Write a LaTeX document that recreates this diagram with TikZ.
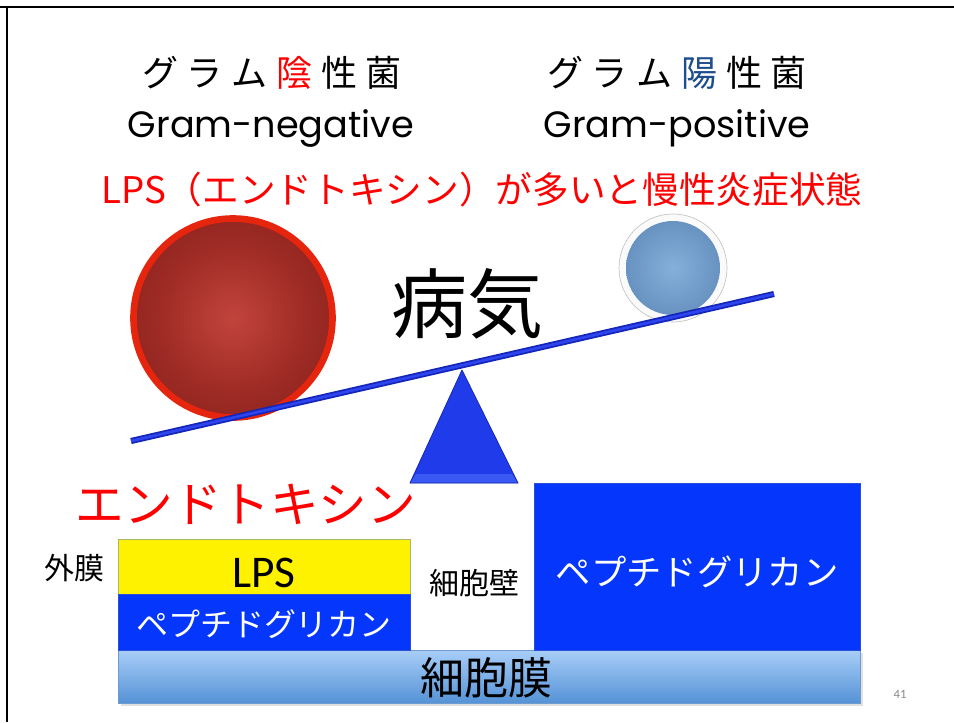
\documentclass[tikz,border=0pt]{standalone}
\usepackage{fontspec}
\setmainfont{Noto Sans CJK JP}
\newfontfamily\latfont{Carlito}
\newfontfamily\roundfont{Poppins}

% colours
\definecolor{ruby}{HTML}{FF0000}
\definecolor{yangblue}{HTML}{1F4E8C}
\definecolor{wallblue}{HTML}{0436FC}
\definecolor{walledge}{HTML}{2A4FD6}
\definecolor{beamdark}{HTML}{1426B8}
\definecolor{beamlight}{HTML}{2E44EE}
\definecolor{triblue}{HTML}{1F3BEA}
\definecolor{triedge}{HTML}{1628B0}
\definecolor{trilight}{HTML}{3A58F4}
\definecolor{rimred}{HTML}{E6250F}
\definecolor{rbA}{HTML}{C2443C}
\definecolor{rbB}{HTML}{A02C26}
\definecolor{rbC}{HTML}{7C1B16}
\definecolor{rbD}{HTML}{5E120E}
\definecolor{bbA}{HTML}{84B0DB}
\definecolor{bbB}{HTML}{6892C0}
\definecolor{bbC}{HTML}{4E78A4}
\definecolor{rimA}{HTML}{FAFAFA}
\definecolor{rimB}{HTML}{C4C4C4}
\definecolor{memtop}{HTML}{A8CEF8}
\definecolor{membot}{HTML}{5592D6}
\definecolor{memedge}{HTML}{6E9CCF}
\definecolor{yellowedge}{HTML}{A8B86A}
\definecolor{pagegrey}{HTML}{8A8A8A}

% ball shadings
\pgfdeclareradialshading{redball}{\pgfpointorigin}{color(0bp)=(rbA); color(18bp)=(rbB); color(40bp)=(rbC); color(50bp)=(rbD)}
\pgfdeclareradialshading{blueball}{\pgfpointorigin}{color(0bp)=(bbA); color(25bp)=(bbB); color(50bp)=(bbC)}
\pgfdeclareradialshading{silverrim}{\pgfpointorigin}{color(0bp)=(rimA); color(44bp)=(rimA); color(50bp)=(rimB)}

\newcommand\tgap{\hspace{6.5pt}}

\tikzset{
  heading/.style={font=\fontsize{27}{30}\selectfont, inner sep=0pt},
  english/.style={font=\roundfont\fontsize{27.5}{30}\selectfont, inner sep=0pt},
  label/.style={font=\fontsize{22.5}{26}\selectfont, inner sep=0pt},
  whitetext/.style={text=white, inner sep=0pt},
  layer/.style={line width=0.5pt},
}

\begin{document}
\begin{tikzpicture}[x=0.75pt, y=-0.75pt]
\useasboundingbox (0,0) rectangle (954,722);
\fill[white] (0,0) rectangle (954,722);

% slide frame
\draw[line width=2pt] (0,7) -- (954,7);
\draw[line width=2pt] (7,7) -- (7,722);

% headings
\node[heading] (negjp) at (272,73) {グ\tgap ラ\tgap ム\tgap{\color{ruby}陰}\tgap 性\tgap 菌};
\node[heading] (posjp) at (677,73) {グ\tgap ラ\tgap ム\tgap{\color{yangblue}陽}\tgap 性\tgap 菌};
\node[english] (negen) at (271,128) {Gram-negative};
\node[english] (posen) at (677,128) {Gram-positive};
\node[inner sep=0pt, text=ruby, font=\fontsize{27.5}{30}\selectfont] (claim) at (482,190)
  {LPS（エンドトキシン）が多いと慢性炎症状態};

% large red ball
\shade[shading=redball] (233,318) circle [radius=98];
\draw[rimred, line width=5pt] (233,318) circle [radius=99.5];

% small blue ball
\shade[shading=silverrim] (673,268) circle [radius=54];
\draw[rimB, line width=0.5pt] (673,268) circle [radius=54];
\shade[shading=blueball] (673,268) circle [radius=47];

% fulcrum
\fill[triblue] (462,370) -- (518,483) -- (410,483) -- cycle;
\fill[trilight] (416,474) -- (512,474) -- (518,483) -- (410,483) -- cycle;
\draw[triedge, line width=0.6pt, line join=round] (462,370) -- (518,483) -- (410,483) -- cycle;

% beam
\coordinate (beamL) at (131,441);
\coordinate (beamR) at (774,294);
\draw[beamdark, line width=4.6pt] (beamL) -- (beamR);
\draw[beamlight, line width=2pt] (beamL) -- (beamR);

\node[inner sep=0pt, font=\fontsize{57}{60}\selectfont] (disease) at (467,304) {病気};

% endotoxin label
\node[inner sep=0pt, text=ruby, font=\fontsize{36.5}{40}\selectfont] (endo) at (246,504) {エンドトキシン};

% cell envelope layers
\fill[black!12] (121,653) rectangle (863,706);
\shade[top color=memtop, bottom color=membot] (118,650) rectangle (860,703);
\draw[memedge, layer] (118,650) rectangle (860,703);

\fill[yellow] (118,539) rectangle (410,594);
\draw[yellowedge, layer] (118,539) rectangle (410,594);
\fill[wallblue] (118,594) rectangle (410,650);
\draw[walledge, layer] (118,594) rectangle (410,650);
\fill[wallblue] (534,483) rectangle (860,650);
\draw[walledge, layer] (534,483) rectangle (860,650);

\node[inner sep=0pt, font=\latfont\fontsize{34}{38}\selectfont] (lps) at (264,573) {LPS};
\node[whitetext, font=\fontsize{24}{28}\selectfont] (pgsmall) at (264,624) {ペプチドグリカン};
\node[whitetext, font=\fontsize{26.5}{30}\selectfont] (pgbig) at (697,572) {ペプチドグリカン};
\node[inner sep=0pt, font=\fontsize{33}{36}\selectfont] (membrane) at (486,678) {細胞膜};

\node[label] (outer) at (75,568) {外膜};
\node[label] (wall) at (474,583) {細胞壁};

\node[inner sep=0pt, text=pagegrey, font=\latfont\fontsize{9.5}{11}\selectfont] (page) at (900,694) {41};
\end{tikzpicture}
\end{document}
